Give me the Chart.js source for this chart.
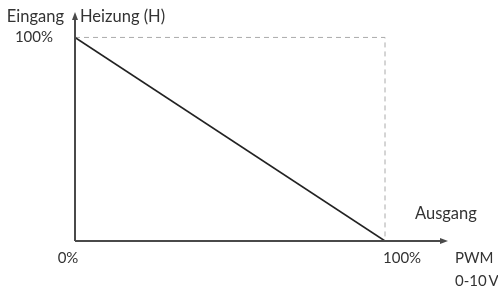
<!DOCTYPE html>
<html><head><meta charset="utf-8">
<script src="https://cdn.jsdelivr.net/npm/chart.js@4/dist/chart.umd.min.js"></script>
<style>html,body{margin:0;padding:0;background:#fff}#wrap{width:498px;height:287px}</style>
</head><body><div id="wrap"><canvas id="c" width="498" height="287"></canvas></div>
<script>
const xValues = [0, 100];
const yValues = [100, 0];
const refX = [0, 100, 100];
const refY = [100, 100, 0];
const xTickValues = [0, 100];
const xTickLabels = ['0%', '100%'];
const yTickValues = [100];
const yTickLabels = ['100%'];
const yTitle = 'Eingang';
const seriesName = 'Heizung (H)';
const xTitle = 'Ausgang';
const xUnit = ['PWM', '0-10\u2009V'];

const FONT = '16.5px Lato, "Open Sans", sans-serif';
const NUMFONT = '15px Lato, "Open Sans", sans-serif';
const TXT = '#333';

const deco = {
  id: 'deco',
  afterDatasetsDraw(chart) {
    const {ctx, chartArea: a, scales: {x, y}} = chart;
    const x0 = x.getPixelForValue(0), y0 = y.getPixelForValue(0);
    ctx.save();
    ctx.strokeStyle = '#4a4a4a'; ctx.fillStyle = '#4a4a4a'; ctx.lineWidth = 2;
    ctx.beginPath(); ctx.moveTo(x0, y0); ctx.lineTo(x0, a.top + 5); ctx.stroke();
    ctx.beginPath(); ctx.moveTo(x0, y0); ctx.lineTo(a.right - 5, y0); ctx.stroke();
    ctx.beginPath(); ctx.moveTo(x0, a.top - 1); ctx.lineTo(x0 - 3, a.top + 7); ctx.lineTo(x0 + 3, a.top + 7); ctx.closePath(); ctx.fill();
    ctx.beginPath(); ctx.moveTo(a.right + 1, y0); ctx.lineTo(a.right - 7, y0 - 3); ctx.lineTo(a.right - 7, y0 + 3); ctx.closePath(); ctx.fill();
    ctx.font = FONT; ctx.fillStyle = TXT; ctx.textBaseline = 'middle';
    ctx.textAlign = 'right'; ctx.fillText(yTitle, x0 - 11, 17);
    ctx.textAlign = 'left'; ctx.fillText(seriesName, x0 + 5, 17);
    ctx.font = NUMFONT;
    yTickValues.forEach((v, i) => { ctx.textAlign = 'right'; ctx.fillText(yTickLabels[i], x0 - 22, y.getPixelForValue(v)); });
    xTickValues.forEach((v, i) => {
      const px = x.getPixelForValue(v);
      if (i === 0) { ctx.textAlign = 'center'; ctx.fillText(xTickLabels[i], px - 7, y0 + 17); }
      else { ctx.textAlign = 'left'; ctx.fillText(xTickLabels[i], px - 2, y0 + 17); }
    });
    ctx.font = FONT;
    ctx.textAlign = 'left';
    ctx.fillText(xTitle, 415, y0 - 27);
    ctx.font = NUMFONT;
    ctx.fillText(xUnit[0], 455, y0 + 17);
    ctx.fillText(xUnit[1], 455, y0 + 40);
    ctx.restore();
  }
};

new Chart(document.getElementById('c'), {
  type: 'line',
  data: {
    datasets: [
      { label: seriesName, data: xValues.map((v, i) => ({x: v, y: yValues[i]})), borderColor: '#222', borderWidth: 1.6, pointRadius: 0, fill: false, tension: 0 },
      { label: 'ref', data: refX.map((v, i) => ({x: v, y: refY[i]})), borderColor: '#aaa', borderWidth: 1, borderDash: [5, 4], pointRadius: 0, fill: false, tension: 0 }
    ]
  },
  options: {
    responsive: false, animation: false,
    layout: { padding: { left: 75, right: 51, top: 13, bottom: 46 } },
    plugins: { legend: { display: false }, tooltip: { enabled: false } },
    scales: {
      x: { type: 'linear', min: 0, max: 120, display: false },
      y: { type: 'linear', min: 0, max: 112, display: false }
    }
  },
  plugins: [deco]
});
</script></body></html>
